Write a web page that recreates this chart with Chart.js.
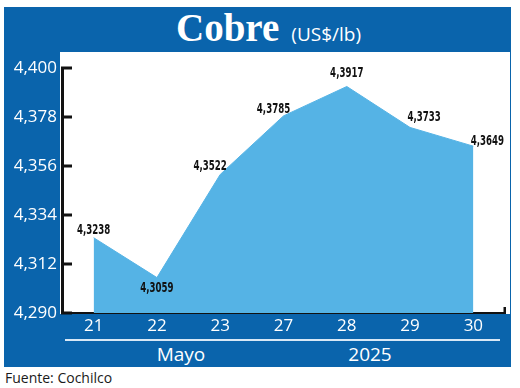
<!DOCTYPE html>
<html><head><meta charset="utf-8">
<script src="https://cdn.jsdelivr.net/npm/chart.js@4.4.0/dist/chart.umd.min.js"></script>
<style>
html,body{margin:0;padding:0;background:#fff;}
#wrap{position:relative;width:520px;height:388px;overflow:hidden;font-family:"Open Sans","Noto Sans",sans-serif;}
#frame{position:absolute;left:4px;top:7px;width:507px;height:360px;background:#0a64ac;}
#panel{position:absolute;left:60px;top:52px;width:450px;height:262px;background:#fff;}
#title{position:absolute;left:176px;top:5px;height:45px;line-height:45px;color:#fff;white-space:nowrap;}
#title .main{font-family:"Liberation Serif","DejaVu Serif",serif;font-weight:bold;font-size:39px;}
#title .unit{font-family:"Open Sans",sans-serif;font-size:19px;margin-left:12px;}
#rule{position:absolute;left:65px;top:339px;width:435px;height:2px;background:#d8e8f6;}
.grp{position:absolute;top:341px;height:26px;line-height:26px;color:#fff;font-size:19px;transform:translateX(-50%);white-space:nowrap;}
#foot{position:absolute;left:5px;top:368px;font-size:14px;color:#1a1a1a;white-space:nowrap;}
canvas{position:absolute;left:0;top:0;}
</style></head>
<body>
<div id="wrap">
  <div id="frame"></div>
  <div id="panel"></div>
  <div id="title"><span class="main">Cobre</span><span class="unit">(US$/lb)</span></div>
  <div id="rule"></div>
  <div class="grp" id="g0" style="left:181px;"></div>
  <div class="grp" id="g1" style="left:370px;"></div>
  <div id="foot">Fuente: Cochilco</div>
  <canvas id="c" width="520" height="388"></canvas>
</div>
<script>
const categories = ['21', '22', '23', '27', '28', '29', '30'];
const values = [4.3238, 4.3059, 4.3522, 4.3785, 4.3917, 4.3733, 4.3649];
const yTicks = [4.290, 4.312, 4.334, 4.356, 4.378, 4.400];
const groupLabels = ['Mayo', '2025'];

document.getElementById('g0').textContent = groupLabels[0];
document.getElementById('g1').textContent = groupLabels[1];

const labelOffsets = [[0,-7],[0,11],[-10,-8],[-10,-6],[0,-13],[14,-10],[14,-5]];
const fmt = (v, d) => v.toFixed(d).replace('.', ',');

const insideTicks = {
  id: 'insideTicks',
  afterDraw(chart) {
    const ctx = chart.ctx, y = chart.scales.y, x = chart.scales.x;
    ctx.save();
    ctx.fillStyle = '#111';
    y.ticks.forEach(t => {
      const py = y.getPixelForValue(t.value);
      ctx.fillRect(y.right - 1, py - 1.5, 11, 3);
    });
    ctx.fillRect(x.right - 1.5, x.top - 6, 2.5, 7);
    ctx.restore();
  }
};

const valueLabels = {
  id: 'valueLabels',
  afterDatasetsDraw(chart) {
    const ctx = chart.ctx;
    const meta = chart.getDatasetMeta(0);
    ctx.save();
    ctx.fillStyle = '#111';
    ctx.font = 'bold 12px "Liberation Sans Narrow","DejaVu Sans Condensed",sans-serif';
    ctx.textAlign = 'center';
    ctx.textBaseline = 'middle';
    meta.data.forEach((pt, i) => {
      const o = labelOffsets[i];
      ctx.save();
      ctx.translate(pt.x + o[0], pt.y + o[1]);
      ctx.scale(0.8, 1.1);
      ctx.fillText(fmt(values[i], 4), 0, 0);
      ctx.restore();
    });
    ctx.restore();
  }
};

new Chart(document.getElementById('c'), {
  type: 'line',
  data: {
    labels: categories,
    datasets: [{
      data: values,
      fill: 'start',
      backgroundColor: '#55b3e5',
      borderColor: '#55b3e5',
      borderWidth: 1,
      pointRadius: 0,
      tension: 0
    }]
  },
  options: {
    responsive: false,
    animation: false,
    events: [],
    layout: { padding: { left: 0, right: 15, top: 68, bottom: 45 } },
    plugins: { legend: { display: false }, tooltip: { enabled: false }, title: { display: false } },
    scales: {
      x: {
        type: 'category',
        offset: true,
        grid: { display: false, drawTicks: false },
        border: { display: true, color: '#111', width: 2 },
        ticks: { color: '#fff', font: { family: '"Open Sans","Noto Sans",sans-serif', size: 17 }, padding: 3, maxRotation: 0, autoSkip: false },
        afterFit(s) { s.height = 30; }
      },
      y: {
        type: 'linear',
        min: yTicks[0],
        max: yTicks[yTicks.length - 1],
        afterBuildTicks(s) { s.ticks = yTicks.map(v => ({ value: v })); },
        grid: { display: false, drawTicks: false },
        border: { display: true, color: '#111', width: 3 },
        ticks: { color: '#fff', font: { family: '"Open Sans","Noto Sans",sans-serif', size: 17 }, padding: 5,
          callback: v => fmt(v, 3) },
        afterFit(s) { s.width = 62; }
      }
    }
  },
  plugins: [insideTicks, valueLabels]
});
</script>
</body></html>
